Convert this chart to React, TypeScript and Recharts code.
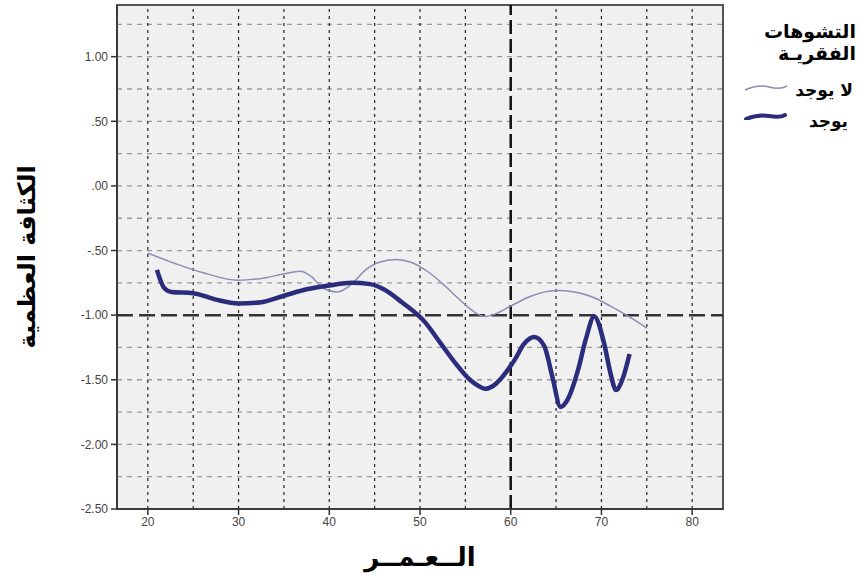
import React from 'react';
import {
  LineChart,
  Line,
  XAxis,
  YAxis,
  CartesianGrid,
  ReferenceLine,
  ReferenceArea,
} from 'recharts';

// ---- data ----
const AGE_TICKS = [20, 30, 40, 50, 60, 70, 80];
const VALUE_TICKS = [-2.5, -2, -1.5, -1, -0.5, 0, 0.5, 1];
const H_GRID = [-2.25, -2, -1.75, -1.5, -1.25, -0.75, -0.5, -0.25, 0, 0.25, 0.5, 0.75, 1, 1.25];
const V_GRID = [20, 25, 30, 35, 40, 45, 50, 55, 65, 70, 75, 80];
const X_DOMAIN: [number, number] = [16.6, 83.4];
const Y_DOMAIN: [number, number] = [-2.5, 1.4];
const REF_AGE = 60;
const REF_VALUE = -1;

const SERIES_NONE_NAME = 'لا يوجد';
const SERIES_YES_NAME = 'يوجد';
const LEGEND_TITLE_1 = 'التشوهات';
const LEGEND_TITLE_2 = 'الفقريـة';
const X_TITLE = 'الــعـمــر';
const Y_TITLE = 'الكثافة العظمية';

// "لا يوجد" (thin line)
const noneAges = [20, 23, 26, 30, 33, 35, 36.8, 38, 39.3, 40.9, 42.3, 44, 45.5, 47.3, 49, 51, 53, 55, 56.3, 57.2, 58.3, 60, 62, 65, 67, 69, 71, 73, 75];
const noneValues = [-0.52, -0.6, -0.67, -0.73, -0.71, -0.68, -0.66, -0.7, -0.79, -0.82, -0.77, -0.65, -0.59, -0.57, -0.59, -0.67, -0.79, -0.92, -0.99, -1.01, -0.99, -0.93, -0.86, -0.81, -0.82, -0.86, -0.93, -1.01, -1.1];

// "يوجد" (thick line)
const yesAges = [21, 21.8, 22.6, 25, 27.5, 30, 32.5, 35, 37.5, 40, 42.5, 44.5, 46, 48, 50.5, 52.3, 54, 55.5, 56.5, 57.2, 58, 60.4, 61.5, 62.6, 63.7, 64.6, 65.5, 66.3, 67.4, 68.3, 69.2, 70.3, 71, 71.6, 72.3, 73.1];
const yesValues = [-0.65, -0.79, -0.82, -0.83, -0.88, -0.91, -0.9, -0.85, -0.8, -0.77, -0.75, -0.76, -0.8, -0.9, -1.05, -1.22, -1.38, -1.5, -1.55, -1.57, -1.55, -1.35, -1.22, -1.17, -1.24, -1.48, -1.71, -1.65, -1.43, -1.18, -1.01, -1.22, -1.45, -1.58, -1.5, -1.3];

const noneData = noneAges.map((x, i) => ({ x, y: noneValues[i] }));
const yesData = yesAges.map((x, i) => ({ x, y: yesValues[i] }));

const THIN_COLOR = '#8c8cb4';
const THICK_COLOR = '#2c2c7c';
const ARABIC_FONT = '"DejaVu Sans", "Noto Sans", sans-serif';
const TICK_FONT = '"Liberation Sans", Arial, sans-serif';

const fmt = (v: number) => {
  const s = Math.abs(v).toFixed(2).replace(/^0/, '');
  return (v < 0 ? '-' : '') + s;
};

const YTitle = (props: any) => {
  const vb = props.viewBox || { x: 0, y: 0, width: 0, height: 0 };
  const cx = vb.x + 27;
  const cy = vb.y + vb.height / 2;
  return (
    <text
      x={cx}
      y={cy}
      transform={`rotate(-90 ${cx} ${cy})`}
      textAnchor="middle"
      dominantBaseline="central"
      fontFamily={ARABIC_FONT}
      fontWeight="bold"
      fontSize={24}
      fill="#000"
    >
      {Y_TITLE}
    </text>
  );
};

const XTitle = (props: any) => {
  const vb = props.viewBox || { x: 0, y: 0, width: 0, height: 0 };
  return (
    <text
      x={vb.x + vb.width / 2}
      y={vb.y + 48}
      textAnchor="middle"
      dominantBaseline="central"
      fontFamily={ARABIC_FONT}
      fontWeight="bold"
      fontSize={26}
      fill="#000"
    >
      {X_TITLE}
    </text>
  );
};

const legendText: React.CSSProperties = {
  position: 'absolute',
  right: 6,
  direction: 'rtl',
  fontFamily: ARABIC_FONT,
  fontWeight: 'bold',
  color: '#000',
  whiteSpace: 'nowrap',
};

export default function App() {
  return (
    <div style={{ position: 'absolute', left: 0, top: 0, width: 862, height: 578, background: '#fff' }}>
      <LineChart
        width={862}
        height={578}
        margin={{ top: 5, right: 139, bottom: 0, left: 0 }}
      >
        <CartesianGrid fill="#f0f0f0" horizontal={false} vertical={false} />
        <XAxis
          type="number"
          dataKey="x"
          domain={X_DOMAIN}
          ticks={AGE_TICKS}
          allowDataOverflow
          height={69}
          tickSize={6}
          tickMargin={2}
          stroke="#333"
          strokeWidth={1.5}
          tick={{ fontFamily: TICK_FONT, fontSize: 12, fill: '#444' }}
          label={<XTitle />}
        />
        <YAxis
          type="number"
          dataKey="y"
          domain={Y_DOMAIN}
          ticks={VALUE_TICKS}
          allowDataOverflow
          width={117}
          tickSize={6}
          tickMargin={3}
          stroke="#333"
          strokeWidth={1.5}
          tickFormatter={fmt}
          tick={{ fontFamily: TICK_FONT, fontSize: 12, fill: '#444' }}
          label={<YTitle />}
        />
        {H_GRID.map((v) => (
          <ReferenceLine key={'h' + v} y={v} stroke="#9a9a9a" strokeWidth={1.3} strokeDasharray="5 5" />
        ))}
        {V_GRID.map((v) => (
          <ReferenceLine key={'v' + v} x={v} stroke="#222" strokeWidth={1.2} strokeDasharray="3 4" />
        ))}
        <ReferenceLine y={REF_VALUE} stroke="#333" strokeWidth={2.5} strokeDasharray="16 6" />
        <ReferenceLine x={REF_AGE} stroke="#111" strokeWidth={2.5} strokeDasharray="14 5" />
        <ReferenceArea
          x1={X_DOMAIN[0]}
          x2={X_DOMAIN[1]}
          y1={Y_DOMAIN[0]}
          y2={Y_DOMAIN[1]}
          fill="none"
          fillOpacity={0}
          stroke="#555"
          strokeWidth={2}
        />
        <Line
          data={noneData}
          dataKey="y"
          name={SERIES_NONE_NAME}
          type="monotone"
          stroke={THIN_COLOR}
          strokeWidth={1.5}
          dot={false}
          activeDot={false}
          isAnimationActive={false}
        />
        <Line
          data={yesData}
          dataKey="y"
          name={SERIES_YES_NAME}
          type="monotone"
          stroke={THICK_COLOR}
          strokeWidth={4.5}
          dot={false}
          activeDot={false}
          isAnimationActive={false}
        />
      </LineChart>
      <div style={{ ...legendText, top: 19, fontSize: 19, lineHeight: '24px' }}>{LEGEND_TITLE_1}</div>
      <div style={{ ...legendText, top: 41, fontSize: 19, lineHeight: '24px' }}>{LEGEND_TITLE_2}</div>
      <div style={{ ...legendText, right: 9, top: 78, fontSize: 17, lineHeight: '24px' }}>{SERIES_NONE_NAME}</div>
      <div style={{ ...legendText, right: 14, top: 109, fontSize: 17, lineHeight: '24px' }}>{SERIES_YES_NAME}</div>
      <svg width={48} height={40} style={{ position: 'absolute', left: 742, top: 80 }}>
        <path d="M3 10 Q 16 4 27 7 T 45 6" fill="none" stroke={THIN_COLOR} strokeWidth={1.5} />
        <path d="M4 40 M4 39 Q 16 34 27 36 T 43 35" fill="none" stroke={THICK_COLOR} strokeWidth={4} strokeLinecap="round" />
      </svg>
    </div>
  );
}
